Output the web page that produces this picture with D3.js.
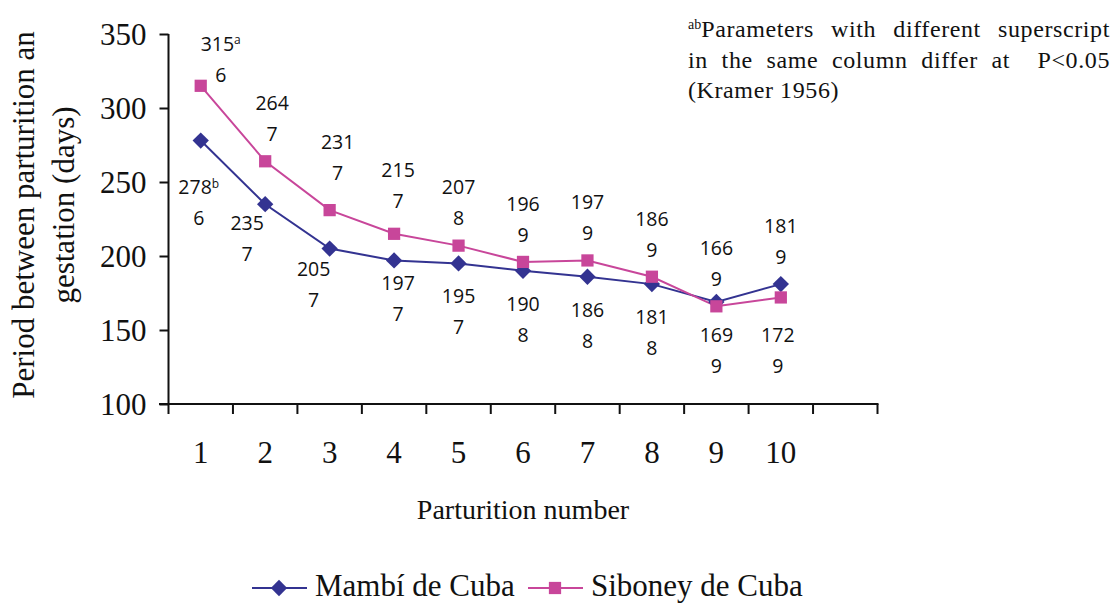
<!DOCTYPE html>
<html>
<head>
<meta charset="utf-8">
<script src="https://cdn.jsdelivr.net/npm/d3@7"></script>
<style>
  body { margin: 0; background: #fff; }
  svg { display: block; }
  .lbl { font-family: "Open Sans", "Noto Sans", sans-serif; font-size: 19.5px; fill: #111; text-anchor: middle; }
</style>
</head>
<body>
<svg id="chart"></svg>
<script>
// data
var parturitions = ["1", "2", "3", "4", "5", "6", "7", "8", "9", "10", ""];
var mambi   = [278, 235, 205, 197, 195, 190, 186, 181, 169, 181];
var mambiN  = [6, 7, 7, 7, 7, 8, 8, 8, 9, 9];
var mambiSup = ["b", "", "", "", "", "", "", "", "", ""];
var siboney  = [315, 264, 231, 215, 207, 196, 197, 186, 166, 172];
var siboneyN = [6, 7, 7, 7, 8, 9, 9, 9, 9, 9];
var siboneySup = ["a", "", "", "", "", "", "", "", "", ""];
// which side of the point each label sits
var mambiSide   = ["below", "below", "below", "below", "below", "below", "below", "below", "below", "above"];
var siboneySide = ["above", "above", "above", "above", "above", "above", "above", "above", "above", "below"];
var yTicks = [100, 150, 200, 250, 300, 350];

var width = 1120, height = 603;
var colMambi = "#333391", colSiboney = "#C8469A";
var serif = '"Liberation Serif", "Times New Roman", serif';

var svg = d3.select("#chart").attr("width", width).attr("height", height);

var x = d3.scaleBand().domain(d3.range(parturitions.length)).range([168.5, 877.5]);
var y = d3.scaleLinear().domain([100, 350]).range([404, 34]);
var cx = function (i) { return x(i) + x.bandwidth() / 2; };

// y axis
var yAxis = svg.append("g")
    .attr("transform", "translate(168.5,0)")
    .call(d3.axisLeft(y).tickValues(yTicks).tickSize(9).tickPadding(13));
yAxis.select(".domain").attr("stroke", "#111").attr("stroke-width", 2).attr("d", "M0," + y(350) + "V" + y(100));
yAxis.selectAll(".tick line").attr("stroke", "#111").attr("stroke-width", 2);
yAxis.selectAll(".tick text")
    .style("font-family", serif).style("font-size", "31px").attr("fill", "#111").attr("dy", "0.34em");

// x axis, ticks between categories
var xAxis = svg.append("g").attr("transform", "translate(0,404)");
xAxis.append("line")
    .attr("x1", 159).attr("x2", 878.5)
    .attr("stroke", "#111").attr("stroke-width", 2);
xAxis.selectAll(".xt")
    .data(d3.range(parturitions.length + 1))
    .enter().append("line")
    .attr("x1", function (i) { return i < parturitions.length ? x(i) : x.range()[1]; })
    .attr("x2", function (i) { return i < parturitions.length ? x(i) : x.range()[1]; })
    .attr("y1", 0).attr("y2", 10)
    .attr("stroke", "#111").attr("stroke-width", 2);
xAxis.selectAll(".xl")
    .data(parturitions)
    .enter().append("text")
    .style("font-family", serif).style("font-size", "31px").attr("fill", "#111")
    .attr("text-anchor", "middle")
    .attr("x", function (d, i) { return cx(i); })
    .attr("y", 59)
    .text(function (d) { return d; });

// axis titles
svg.append("text")
    .style("font-family", serif).style("font-size", "28px").attr("fill", "#111")
    .attr("text-anchor", "middle")
    .attr("x", 523).attr("y", 519)
    .text("Parturition number");

var yt = svg.append("text")
    .style("font-family", serif).style("font-size", "31px").attr("fill", "#111")
    .attr("text-anchor", "middle")
    .attr("transform", "rotate(-90)");
yt.append("tspan").attr("x", -215).attr("y", 34).text("Period between parturition an");
yt.append("tspan").attr("x", -205).attr("y", 74).text("gestation (days)");

// lines
var line = d3.line().x(function (d, i) { return cx(i); }).y(function (d) { return y(d); });

svg.append("path").datum(mambi)
    .attr("d", line).attr("fill", "none").attr("stroke", colMambi).attr("stroke-width", 2);
svg.append("path").datum(siboney)
    .attr("d", line).attr("fill", "none").attr("stroke", colSiboney).attr("stroke-width", 2);

var diamond = d3.symbol().type(d3.symbolDiamond2).size(170);
var square = d3.symbol().type(d3.symbolSquare).size(150);

svg.selectAll(".mpt").data(mambi).enter().append("path")
    .attr("d", diamond)
    .attr("transform", function (d, i) { return "translate(" + cx(i) + "," + y(d) + ")"; })
    .attr("fill", colMambi);
svg.selectAll(".spt").data(siboney).enter().append("path")
    .attr("d", square)
    .attr("transform", function (d, i) { return "translate(" + cx(i) + "," + y(d) + ")"; })
    .attr("fill", colSiboney);

// data labels: value on first line, n on second line
function addLabels(vals, ns, sups, sides, nudge) {
    vals.forEach(function (v, i) {
        var px = cx(i), py = y(v);
        var dy1 = sides[i] === "above" ? -58 : 33;
        var n = nudge[i] || [0, 0];
        var g = svg.append("g").attr("transform", "translate(" + (px + n[0]) + "," + (py + dy1 + n[1]) + ")");
        var t = g.append("text").attr("class", "lbl").attr("dy", "0.35em");
        t.append("tspan").text(v);
        if (sups[i]) {
            t.append("tspan").attr("dy", "-0.55em").style("font-size", "12px").text(sups[i]);
        }
        g.append("text").attr("class", "lbl").attr("dy", "0.35em").attr("y", 31).text(ns[i]);
    });
}
// hand nudges where labels would hit the axis or the other line
addLabels(mambi, mambiN, mambiSup, mambiSide, {0: [-2, 14], 1: [-18, -14], 2: [-16, -12], 3: [4, -10]});
addLabels(siboney, siboneyN, siboneySup, siboneySide, {0: [20, 16], 1: [7, 0], 2: [8, -10], 3: [4, -6], 9: [-3, 5]});

// note, first two lines justified by widening the word gaps
var note = svg.append("g")
    .style("font-family", serif).style("font-size", "24px")
    .style("letter-spacing", "0.6px").attr("fill", "#111");
var noteRight = 1110;
var l1 = note.append("text").attr("x", 688).attr("y", 37);
l1.append("tspan").style("font-size", "14px").style("letter-spacing", "0px").attr("dy", "-8").text("ab");
l1.append("tspan").attr("dy", "8").text("Parameters with different superscript");
var l2 = note.append("text").attr("x", 688).attr("y", 68)
    .text("in the same column differ at \u00a0P<0.05");
[l1, l2].forEach(function (t) {
    var gaps = (t.text().match(/[ \u00a0]/g) || []).length;
    var extra = (noteRight - 688 - t.node().getComputedTextLength()) / gaps;
    t.style("word-spacing", Math.max(0, extra) + "px");
});
note.append("text").attr("x", 688).attr("y", 98).text("(Kramer 1956)");

// legend
var legend = [
    {name: "Mambí de Cuba", color: colMambi, sym: diamond, x: 252},
    {name: "Siboney de Cuba", color: colSiboney, sym: square, x: 528}
];
var lg = svg.selectAll(".leg").data(legend).enter().append("g")
    .attr("transform", function (d) { return "translate(" + d.x + ",588)"; });
lg.append("line").attr("x1", 0).attr("x2", 55)
    .attr("stroke", function (d) { return d.color; }).attr("stroke-width", 2);
lg.append("path").attr("d", function (d) { return d.sym(); })
    .attr("transform", "translate(27,0)")
    .attr("fill", function (d) { return d.color; });
lg.append("text")
    .style("font-family", serif).style("font-size", "31px").attr("fill", "#111")
    .attr("x", 63).attr("y", 8)
    .text(function (d) { return d.name; });
</script>
</body>
</html>
